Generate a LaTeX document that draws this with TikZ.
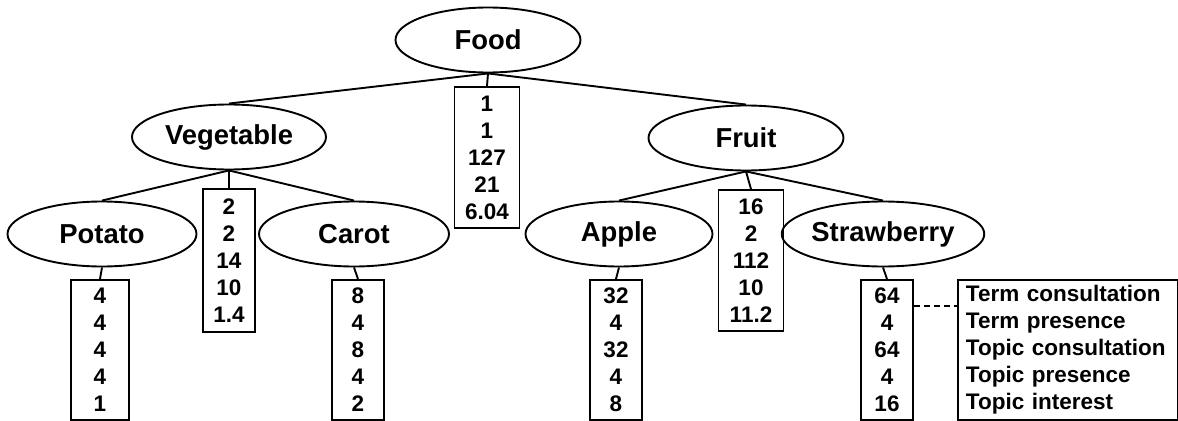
\documentclass[tikz,border=0pt]{standalone}
\usepackage{fontspec}
\setmainfont{Liberation Sans}
\usetikzlibrary{shapes.geometric}
\newcommand\pxu{0.25mm}
\begin{document}
\begin{tikzpicture}[
    x=0.25mm, y=-0.25mm, line width=1.35pt,
    concept/.style={ellipse, draw, inner sep=0pt, minimum height=65*\pxu,
        font=\fontsize{19.5}{22}\selectfont\bfseries},
    counts/.style={rectangle, draw, anchor=north, align=center,
        inner sep=0pt, minimum height=140*\pxu, minimum width=52*\pxu,
        font=\fontsize{16}{19.2}\selectfont\bfseries}]
    \useasboundingbox (0,0) rectangle (1178,421);
    % Conceptos del arbol.
    \node[concept, minimum width=185*\pxu] (food) at (488,40) {Food};
    \node[concept, minimum width=194*\pxu] (veg) at (229,137) {Vegetable};
    \node[concept, minimum width=195*\pxu] (fruit) at (746,138) {Fruit};
    \node[concept, minimum width=189*\pxu] (potato) at (102,234) {Potato};
    \node[concept, minimum width=190*\pxu] (carot) at (354,234) {Carot};
    \node[concept, minimum width=187*\pxu] (apple) at (619,234) {Apple};
    \node[concept, minimum width=191*\pxu] (straw) at (883,234) {Strawberry};

    % Contadores de cada concepto.
    \node[counts, minimum width=65*\pxu, minimum height=141*\pxu] (foodbox) at (487,86)
        {1\\1\\127\\21\\6.04};
    \node[counts, minimum height=143*\pxu] (vegbox) at (229,188)
        {2\\2\\14\\10\\1.4};
    \node[counts, minimum width=65*\pxu, minimum height=141*\pxu] (fruitbox) at (751,189)
        {16\\2\\112\\10\\11.2};
    \node[counts, minimum width=58*\pxu] (potatobox) at (100,279) {4\\4\\4\\4\\1};
    \node[counts] (carotbox) at (358,279) {8\\4\\8\\4\\2};
    \node[counts] (applebox) at (616,279) {32\\4\\32\\4\\8};
    \node[counts] (strawbox) at (887,279) {64\\4\\64\\4\\16};

    % Leyenda.
    \node[counts, anchor=north west, align=left, inner xsep=8*\pxu,
        text width=204*\pxu] (legend) at (957,279)
        {Term consultation\\Term presence\\Topic consultation\\Topic presence\\Topic interest};

    % Aristas.
    \draw (food.south) -- (veg.north);
    \draw (food.south) -- (fruit.north);
    \draw (food.south) -- (foodbox.north);
    \draw (veg.south) -- (potato.north);
    \draw (veg.south) -- (carot.north);
    \draw (veg.south) -- (vegbox.north);
    \draw (fruit.south) -- (apple.north);
    \draw (fruit.south) -- (straw.north);
    \draw (fruit.south) -- (fruitbox.north);
    \draw (potato.south) -- (potatobox.north);
    \draw (carot.south) -- (carotbox.north);
    \draw (apple.south) -- (applebox.north);
    \draw (straw.south) -- (strawbox.north);
    \draw[dash pattern=on 4.3pt off 2.9pt, line width=1pt]
        ([yshift=-27*\pxu]strawbox.north east)
        -- ([yshift=-27*\pxu]legend.north west);
\end{tikzpicture}
\end{document}
